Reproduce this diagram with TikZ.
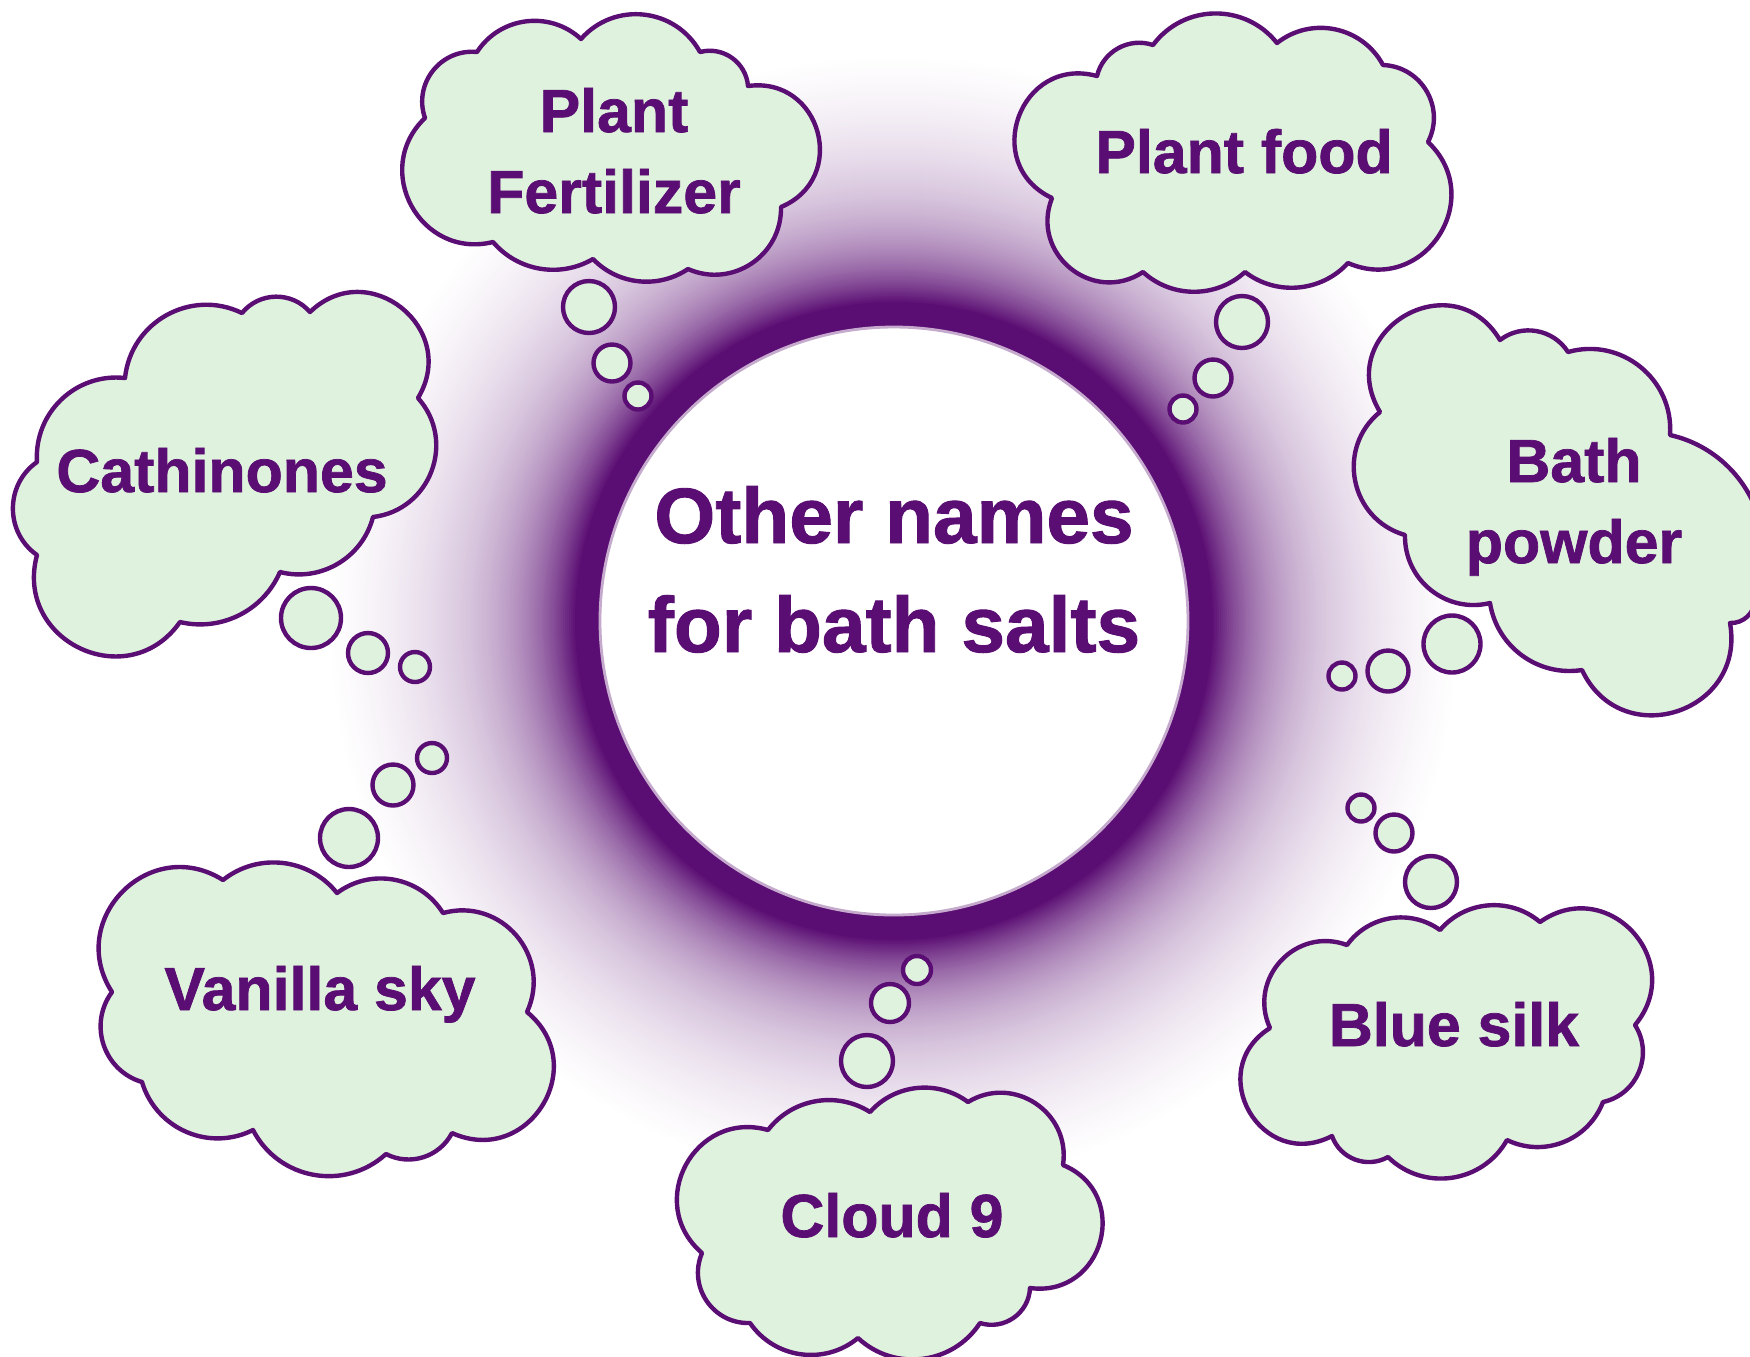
\documentclass[tikz,border=0pt]{standalone}
\usepackage{fontspec}
\setmainfont{Liberation Sans}[BoldFeatures={FakeBold=1.2}]
\definecolor{pp}{RGB}{90,13,114}
\definecolor{gr}{RGB}{223,242,222}
\newcommand\cldfont{\fontsize{17.3}{23}\selectfont\bfseries}
\newcommand\ctrfont{\fontsize{22.3}{31}\selectfont\bfseries}
\tikzset{
  cl/.style={draw=pp, fill=gr, line width=1.25pt, line join=round},
  lobe/.code={\pgfmathsetmacro\lbA{#1/2}\pgfmathsetmacro\lbL{1.7029*tan(#1/4)/sin(#1/2)}\edef\lbtmp{\noexpand\pgfkeysalso{bend left=\lbA,looseness=\lbL}}\lbtmp},
  lbl/.style={text=pp, anchor=base, inner sep=0pt, font=\cldfont},
  ctr/.style={text=pp, anchor=base, inner sep=0pt, font=\ctrfont}
}
\begin{document}
\begin{tikzpicture}[x=0.01cm, y=0.01cm]
\useasboundingbox (0,-1356) rectangle (1750,0);
\fill[white] (0,-1356) rectangle (1750,0);
\clip (0,-1356) rectangle (1750,0);
% glow round the centre circle
\foreach \r in {565,563,...,295} {
  \pgfmathsetmacro\pc{min(100,100*(0.6*exp(-(\r-319)/55)+0.4*exp(-(\r-319)/130))*(1-((\r-294)/271)^4))}
  \fill[pp!\pc] (894,-621) circle[radius=\r];
}
\fill[white, draw=pp!35, line width=0.8pt] (894,-621) circle[radius=294];
\node[ctr] (c1) at (894,-543) {Other names};
\node[ctr] (c2) at (894,-652) {for bath salts};
% Plant Fertilizer
\draw[cl] (425,-118) to[lobe=115] (477,-52) to[lobe=100] (581,-39) to[lobe=110] (700,-52) to[lobe=100] (748,-86) to[lobe=165] (781,-207) to[lobe=115] (688,-269) to[lobe=80] (593,-259) to[lobe=80] (493,-242) to[lobe=150] (425,-118) -- cycle;
\draw[cl] (589,-307) circle[radius=26];
\draw[cl] (612,-363) circle[radius=18.5];
\draw[cl] (638,-396) circle[radius=13.5];
\node[lbl] (pf1) at (614,-132) {Plant};
\node[lbl] (pf2) at (614,-213) {Fertilizer};
% Plant food
\draw[cl] (1052,-198) to[lobe=170] (1097,-76) to[lobe=95] (1153,-45) to[lobe=105] (1277,-43) to[lobe=100] (1383,-65) to[lobe=115] (1428,-142) to[lobe=160] (1348,-263) to[lobe=85] (1245,-272) to[lobe=85] (1143,-272) to[lobe=145] (1052,-198) -- cycle;
\draw[cl] (1242,-322) circle[radius=26];
\draw[cl] (1213,-378) circle[radius=18.5];
\draw[cl] (1183,-409) circle[radius=13.5];
\node[lbl] (pfd) at (1244,-173) {Plant food};
% Cathinones
\draw[cl] (37,-462) to[lobe=100] (125,-378) to[lobe=110] (242,-313) to[lobe=100] (310,-312) to[lobe=165] (418,-398) to[lobe=125] (373,-517) to[lobe=90] (280,-572) to[lobe=80] (180,-622) to[lobe=160] (37,-555) to[lobe=110] (37,-462) -- cycle;
\draw[cl] (311,-618) circle[radius=30];
\draw[cl] (368,-653) circle[radius=20];
\draw[cl] (415,-667) circle[radius=15];
\node[lbl] (cat) at (222,-492) {Cathinones};
% Vanilla sky
\draw[cl] (112,-992) to[lobe=155] (223,-880) to[lobe=90] (337,-893) to[lobe=95] (443,-913) to[lobe=130] (527,-1012) to[lobe=165] (452,-1133) to[lobe=90] (386,-1154) to[lobe=105] (253,-1130) to[lobe=100] (142,-1082) to[lobe=110] (112,-992) -- cycle;
\draw[cl] (349,-838) circle[radius=29];
\draw[cl] (393,-785) circle[radius=20.5];
\draw[cl] (432,-758) circle[radius=15];
\node[lbl] (van) at (320,-1010) {Vanilla sky};
% Cloud 9
\draw[cl] (702,-1253) to[lobe=155] (768,-1130) to[lobe=85] (870,-1112) to[lobe=85] (968,-1102) to[lobe=130] (1063,-1165) to[lobe=165] (1030,-1288) to[lobe=105] (980,-1323) to[lobe=100] (858,-1338) to[lobe=95] (750,-1323) to[lobe=115] (702,-1253) -- cycle;
\draw[cl] (867,-1061) circle[radius=26];
\draw[cl] (890,-1003) circle[radius=19];
\draw[cl] (917,-970) circle[radius=14];
\node[lbl] (c9) at (892,-1237) {Cloud 9};
% Bath powder
\draw[cl] (1380,-412) to[lobe=180] (1500,-340) to[lobe=95] (1568,-352) to[lobe=110] (1670,-435) to[lobe=100] (1755,-600) to[lobe=90] (1730,-623) to[lobe=165] (1582,-670) to[lobe=90] (1490,-603) to[lobe=105] (1405,-535) to[lobe=125] (1380,-412) -- cycle;
\draw[cl] (1452,-644) circle[radius=28.5];
\draw[cl] (1388,-671) circle[radius=20.5];
\draw[cl] (1342,-676) circle[radius=13.5];
\node[lbl] (bp1) at (1574,-482) {Bath};
\node[lbl] (bp2) at (1574,-563) {powder};
% Blue silk
\draw[cl] (1270,-1028) to[lobe=135] (1347,-945) to[lobe=90] (1440,-930) to[lobe=90] (1540,-922) to[lobe=165] (1635,-1025) to[lobe=110] (1603,-1102) to[lobe=95] (1507,-1140) to[lobe=105] (1388,-1157) to[lobe=100] (1332,-1136) to[lobe=175] (1270,-1028) -- cycle;
\draw[cl] (1431,-882) circle[radius=26];
\draw[cl] (1394,-833) circle[radius=18.5];
\draw[cl] (1361,-808) circle[radius=13.5];
\node[lbl] (bs) at (1454,-1046) {Blue silk};
\end{tikzpicture}
\end{document}
